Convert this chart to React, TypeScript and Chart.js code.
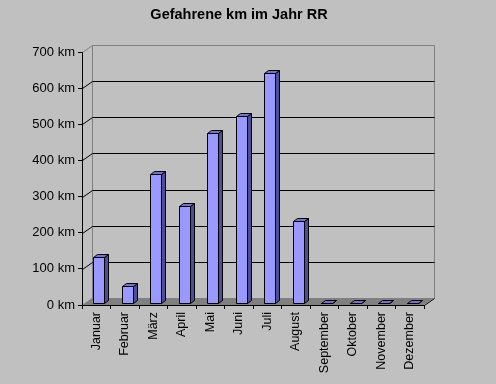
import React, { useEffect, useRef } from "react";
import { Chart, registerables } from "chart.js";

Chart.register(...registerables);

const categories = [
  "Januar", "Februar", "März", "April", "Mai", "Juni",
  "Juli", "August", "September", "Oktober", "November", "Dezember",
];
const kmValues = [128, 48, 356, 268, 469, 518, 637, 227, 0, 0, 0, 0];
const yMin = 0;
const yMax = 700;
const yStep = 100;
const titleText = "Gefahrene km im Jahr RR";

const FONT = '"Liberation Sans", Arial, sans-serif';
const DX = 10; // depth offset of back wall
const DY = -7;
const BAR_OX = 2.6; // bar front face offset into depth
const BAR_OY = -2;
const BAR_DX = 4; // bar depth
const BAR_DY = -3;

const wallPlugin = {
  id: "wall3d",
  afterLayout(chart: any) {
    if (chart.titleBlock) {
      chart.titleBlock.left = 54;
      chart.titleBlock.right = 424;
    }
  },
  beforeDraw(chart: any) {
    const { ctx, width, height } = chart;
    const xs = chart.scales.x;
    const ys = chart.scales.y;
    ctx.save();
    ctx.fillStyle = "#c0c0c0";
    ctx.fillRect(0, 0, width, height);
    const L = Math.round(xs.left);
    const R = Math.round(xs.right);
    const T = Math.round(ys.getPixelForValue(yMax));
    const B = Math.round(ys.getPixelForValue(yMin));
    // floor
    ctx.fillStyle = "#808080";
    ctx.beginPath();
    ctx.moveTo(L, B);
    ctx.lineTo(R, B);
    ctx.lineTo(R + DX, B + DY);
    ctx.lineTo(L + DX, B + DY);
    ctx.closePath();
    ctx.fill();
    ctx.lineWidth = 1;
    // wall border (gray)
    ctx.strokeStyle = "#808080";
    ctx.beginPath();
    ctx.moveTo(L + 0.5, T + 0.5);
    ctx.lineTo(L + DX + 0.5, T + DY + 0.5);
    ctx.lineTo(R + DX + 0.5, T + DY + 0.5);
    ctx.lineTo(R + DX + 0.5, B + DY + 0.5);
    ctx.moveTo(L + DX + 0.5, T + DY + 0.5);
    ctx.lineTo(L + DX + 0.5, B + DY + 0.5);
    ctx.stroke();
    // gridlines
    ctx.strokeStyle = "#000";
    ctx.beginPath();
    for (let v = yMin + yStep; v < yMax; v += yStep) {
      const py = Math.round(ys.getPixelForValue(v));
      ctx.moveTo(L + 0.5, py + 0.5);
      ctx.lineTo(L + DX + 0.5, py + DY + 0.5);
      ctx.lineTo(R + DX + 0.5, py + DY + 0.5);
    }
    // right floor edge
    ctx.moveTo(R + 0.5, B + 0.5);
    ctx.lineTo(R + DX + 0.5, B + DY + 0.5);
    ctx.stroke();
    ctx.restore();
  },
  afterDatasetsDraw(chart: any) {
    const { ctx } = chart;
    const meta = chart.getDatasetMeta(0);
    ctx.save();
    ctx.lineWidth = 1;
    ctx.strokeStyle = "#000";
    ctx.lineJoin = "miter";
    meta.data.forEach((el: any) => {
      const w = el.width;
      const x0 = Math.round(el.x - w / 2 + BAR_OX) + 0.5;
      const x1 = Math.round(el.x + w / 2 + BAR_OX) + 0.5;
      const top = Math.round(el.y + BAR_OY) + 0.5;
      const bot = Math.round(el.base + BAR_OY) + 0.5;
      // side
      ctx.fillStyle = "#4d4d99";
      ctx.beginPath();
      ctx.moveTo(x1, top);
      ctx.lineTo(x1 + BAR_DX, top + BAR_DY);
      ctx.lineTo(x1 + BAR_DX, bot + BAR_DY);
      ctx.lineTo(x1, bot);
      ctx.closePath();
      ctx.fill();
      ctx.stroke();
      // top
      ctx.fillStyle = "#7373cc";
      ctx.beginPath();
      ctx.moveTo(x0, top);
      ctx.lineTo(x0 + BAR_DX, top + BAR_DY);
      ctx.lineTo(x1 + BAR_DX, top + BAR_DY);
      ctx.lineTo(x1, top);
      ctx.closePath();
      ctx.fill();
      ctx.stroke();
      // front
      ctx.fillStyle = "#9999ff";
      ctx.beginPath();
      ctx.rect(x0, top, x1 - x0, bot - top);
      ctx.fill();
      ctx.stroke();
    });
    ctx.restore();
  },
};

export default function App() {
  const ref = useRef<HTMLCanvasElement | null>(null);
  useEffect(() => {
    document.body.style.margin = "0";
    document.body.style.background = "#c0c0c0";
    if (!ref.current) return;
    const chart = new Chart(ref.current, {
      type: "bar",
      data: {
        labels: categories,
        datasets: [
          {
            data: kmValues,
            backgroundColor: "rgba(0,0,0,0)",
            borderWidth: 0,
            barPercentage: 0.39,
            categoryPercentage: 1,
          },
        ],
      },
      options: {
        responsive: false,
        animation: false,
        events: [],
        layout: { padding: { left: 0, right: 72, top: 0, bottom: 0 } },
        plugins: {
          legend: { display: false },
          tooltip: { enabled: false },
          title: {
            display: true,
            text: titleText,
            color: "#000",
            font: { family: FONT, size: 14.5, weight: "bold" },
            padding: { top: 6, bottom: 28.6 },
          },
        },
        scales: {
          x: {
            afterFit: (s: any) => {
              s.height = 79;
            },
            grid: {
              display: true,
              drawOnChartArea: false,
              drawTicks: true,
              tickLength: 4,
              color: "#000",
              offset: true,
            },
            border: { display: true, color: "#000" },
            ticks: {
              color: "#000",
              font: { family: FONT, size: 12.5 },
              maxRotation: 90,
              minRotation: 90,
              autoSkip: false,
              padding: 3,
            },
          },
          y: {
            min: yMin,
            max: yMax,
            afterFit: (s: any) => {
              s.width = 82;
            },
            grid: {
              display: true,
              drawOnChartArea: false,
              drawTicks: true,
              tickLength: 4,
              color: "#000",
            },
            border: { display: true, color: "#000" },
            ticks: {
              stepSize: yStep,
              color: "#000",
              font: { family: FONT, size: 13 },
              padding: 3,
              callback: (v: any) => `${v} km`,
            },
          },
        },
      },
      plugins: [wallPlugin],
    });
    return () => chart.destroy();
  }, []);
  return (
    <canvas
      ref={ref}
      width={496}
      height={384}
      style={{ display: "block", width: 496, height: 384 }}
    />
  );
}
